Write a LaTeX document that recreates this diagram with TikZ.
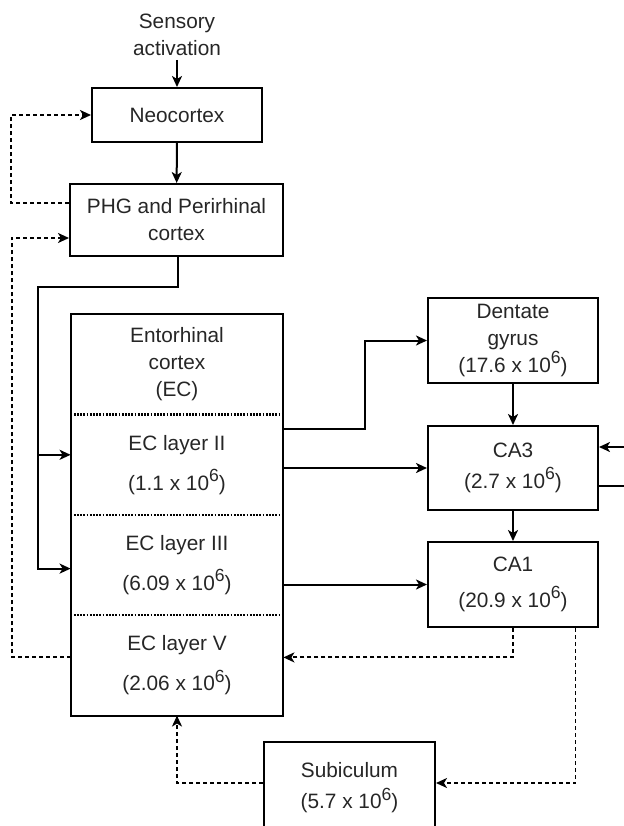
\documentclass[tikz,border=0pt]{standalone}
\usepackage{fontspec}
\setmainfont{Liberation Sans}
\usetikzlibrary{arrows.meta,positioning}

% raised power of ten
\newcommand{\pow}[1]{\raisebox{0.42em}{\fontsize{8.8}{8.8}\selectfont #1}}

\tikzset{
  txt/.style={font=\fontsize{10.4}{13.5}\selectfont, text=black!85, align=center},
  box/.style={txt, draw, line width=1pt, inner sep=0pt},
  layer/.style={txt, inner sep=0pt, minimum width=106pt, minimum height=49.75pt},
  conn/.style={line width=1pt, -{Stealth[length=5.5pt,width=5pt,inset=1.5pt]}},
  fb/.style={conn, line width=0.95pt, dash pattern=on 2pt off 1.5pt},
  sep/.style={line width=1.2pt, dash pattern=on 0.9pt off 0.7pt},
}

\begin{document}
\begin{tikzpicture}[x=0.5pt, y=-0.5pt]
    \useasboundingbox (0,0) rectangle (624,826);

    % cortex
    \node[txt, inner sep=2pt] (sens) at (177,34.5) {Sensory\\activation};
    \node[box, minimum width=85pt, minimum height=27pt] (neo) at (177,115) {Neocortex};
    \node[box, minimum width=106.5pt, minimum height=36pt] (phg) at (176.5,220) {PHG and Perirhinal\\cortex};

    % entorhinal cortex, one box in four parts
    \node[layer] (ec) at (177,364.5) {Entorhinal\\cortex\\(EC)};
    \node[layer, below=0pt of ec] (ec2) {EC layer II\\[6.5pt](1.1 x 10\pow{6})};
    \node[layer, below=0pt of ec2] (ec3) {EC layer III\\[6.5pt](6.09 x 10\pow{6})};
    \node[layer, below=0pt of ec3] (ec5) {EC layer V\\[6.5pt](2.06 x 10\pow{6})};
    \draw[line width=1pt] (ec.north west) rectangle (ec5.south east);
    \foreach \s in {ec2,ec3,ec5} {
        \draw[sep] (\s.north west) -- (\s.north east);
    }

    % hippocampus
    \node[box, minimum width=85pt, minimum height=42.5pt] (dg) at (513,340.5) {Dentate\\gyrus\\(17.6 x 10\pow{6})};
    \node[box, minimum width=85pt, minimum height=42pt] (ca3) at (513,468) {CA3\\[2pt](2.7 x 10\pow{6})};
    \node[box, minimum width=85pt, minimum height=42.5pt] (ca1) at (513,584.5) {CA1\\[4.5pt](20.9 x 10\pow{6})};
    \node[box, minimum width=85.5pt, minimum height=46pt] (sub) at (349.5,788) {Subiculum\\[2pt](5.7 x 10\pow{6})};

    % forward paths
    \draw[conn] (sens) -- (neo);
    \draw[conn] (neo) -- (phg);
    \coordinate (bus) at (38,287);
    \coordinate (in2) at ([yshift=5pt]ec2.west);
    \draw[conn] ([xshift=0.75pt]phg.south) |- (bus) |- ([yshift=-1.75pt]ec3.west);
    \draw[conn] (bus |- in2) -- (in2);
    \draw[conn] ([yshift=18pt]ec2.east) -- ++(82,0) |- (dg.west);
    \draw[conn] (ec2.east |- ca3.west) -- (ca3.west);
    \draw[conn] (ec3.east |- ca1.west) -- (ca1.west);
    \draw[conn] (dg) -- (ca3);
    \draw[conn] (ca3) -- (ca1);

    % CA3 recurrent loop, cut off at the edge
    \coordinate (rin) at (630,447);
    \coordinate (rout) at (630,486);
    \draw[conn] (rin) -- (rin -| ca3.east);
    \draw[line width=1pt] (ca3.east |- rout) -- (rout);

    % back projections
    \draw[fb] ([yshift=8.5pt]phg.west) -- ++(-58,0) |- (neo.west);
    \draw[fb] ([yshift=4pt]ec5.west) -- ++(-59,0) |- ([yshift=-9pt]phg.west);
    \draw[fb] (ca1.south) |- ([yshift=4pt]ec5.east);
    \draw[fb] ([xshift=31.25pt]ca1.south) |- ([yshift=2.5pt]sub.east);
    \draw[fb] ([yshift=2.5pt]sub.west) -| (ec5.south);
\end{tikzpicture}
\end{document}
